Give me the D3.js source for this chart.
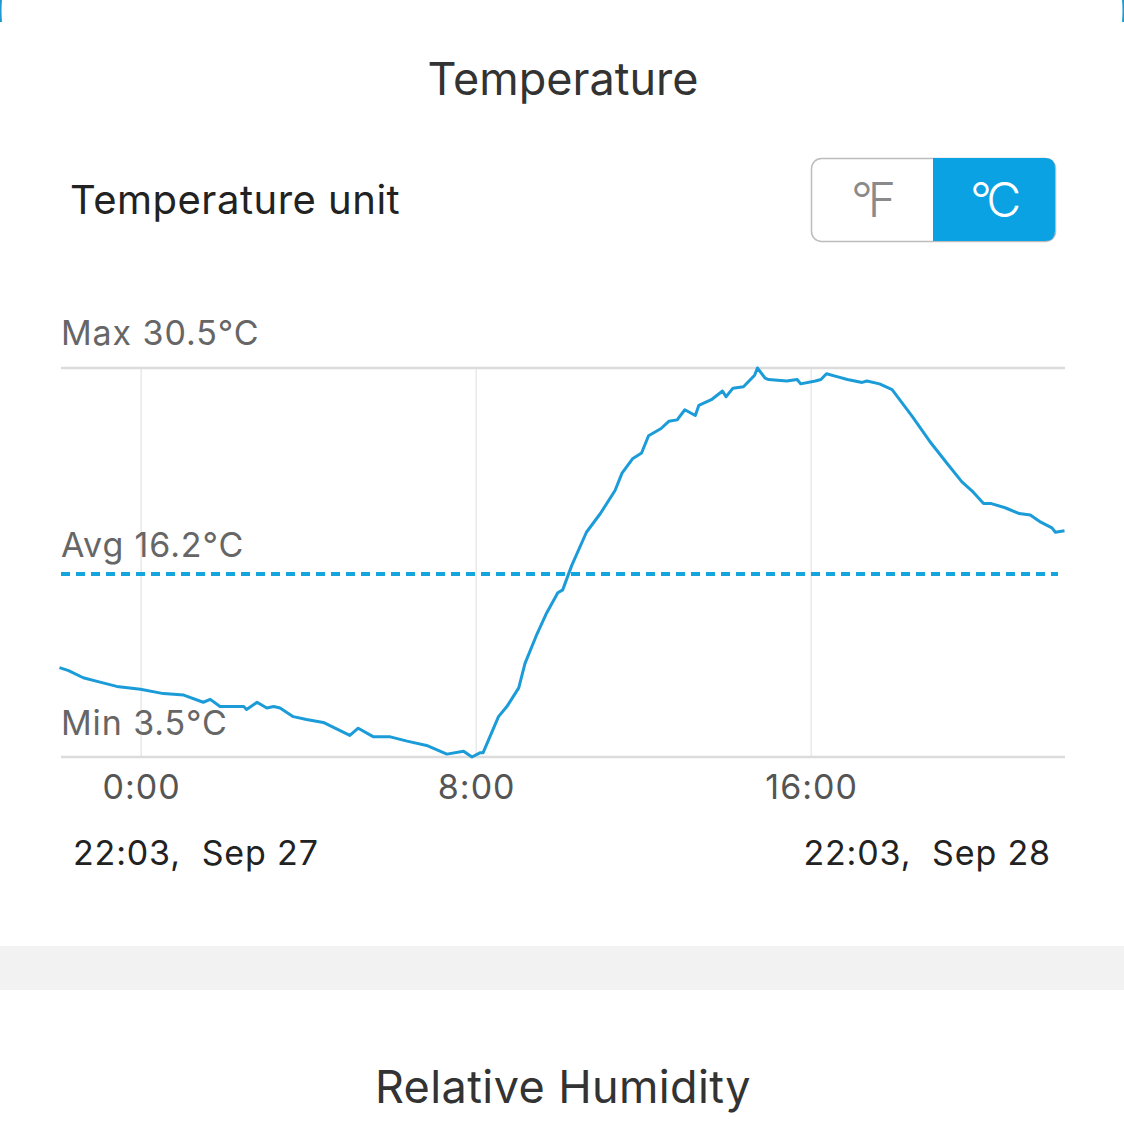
<!DOCTYPE html>
<html>
<head>
<meta charset="utf-8">
<script src="https://cdn.jsdelivr.net/npm/d3@7"></script>
<style>
  html, body { margin: 0; padding: 0; background: #fff; }
  svg { display: block; font-family: "Inter", "Liberation Sans", Arial, sans-serif; }
</style>
</head>
<body>
<svg id="chart" width="1124" height="1124"></svg>
<script>
// ---- data ----
const times = [
  "27 22:03","27 22:16","27 22:37","27 23:01","27 23:25","27 23:59",
  "28 00:32","28 01:01","28 01:29","28 01:39","28 01:53","28 02:27","28 02:31","28 02:46",
  "28 03:00","28 03:10","28 03:19","28 03:38","28 03:57","28 04:21","28 04:59","28 05:11",
  "28 05:33","28 05:57","28 06:21","28 06:49","28 07:18","28 07:42","28 07:54","28 08:06",
  "28 08:10","28 08:32","28 08:44","28 09:01","28 09:10","28 09:26","28 09:41","28 09:57",
  "28 10:04","28 10:17","28 10:38","28 10:58","28 11:19","28 11:29","28 11:44","28 11:57",
  "28 12:07","28 12:25","28 12:36","28 12:48","28 12:59","28 13:14","28 13:19","28 13:37",
  "28 13:53","28 13:58","28 14:08","28 14:23","28 14:39","28 14:43","28 14:54","28 14:59",
  "28 15:25","28 15:40","28 15:45","28 16:06","28 16:14","28 16:22","28 16:37","28 16:52",
  "28 17:13","28 17:20","28 17:38","28 17:56","28 18:24","28 18:50","28 19:16","28 19:36",
  "28 19:52","28 20:07","28 20:17","28 20:38","28 20:58","28 21:14","28 21:29","28 21:45",
  "28 21:50","28 22:03"
];
const temps = [
  9.7, 9.5, 9.0, 8.7, 8.4, 8.2,
  7.9, 7.8, 7.3, 7.5, 7.0, 7.0, 6.8, 7.3,
  6.9, 7.0, 6.9, 6.3, 6.1, 5.9, 5.0, 5.5,
  4.9, 4.9, 4.6, 4.3, 3.7, 3.9, 3.5, 3.8,
  3.8, 6.3, 7.0, 8.3, 10.0, 11.9, 13.5, 14.9,
  15.1, 16.8, 19.1, 20.4, 22.0, 23.2, 24.2, 24.6,
  25.8, 26.3, 26.8, 26.9, 27.6, 27.2, 27.9, 28.3,
  28.9, 28.5, 29.1, 29.2, 30.0, 30.5, 29.8, 29.7,
  29.6, 29.7, 29.4, 29.6, 29.7, 30.1, 29.9, 29.7,
  29.5, 29.6, 29.4, 29.0, 27.2, 25.4, 23.8, 22.6,
  21.9, 21.1, 21.1, 20.8, 20.4, 20.3, 19.8, 19.4,
  19.1, 19.2
];
const statLabels = ["Max", "Avg", "Min"];
const statValues = [30.5, 16.2, 3.5];
const tickTimes = ["28 00:00", "28 08:00", "28 16:00"];
const tickLabels = ["0:00", "8:00", "16:00"];
const rangeLabels = ["22:03,  Sep 27", "22:03,  Sep 28"];
const unitOptions = ["°F", "°C"];
const activeUnit = "°C";

(function () {
const parse = d3.timeParse("%d %H:%M");
const data = times.map((t, i) => ({ t: parse(t), v: temps[i] }));
const svg = d3.select("#chart");
const blue = "#1b9cd8";

const pLeft = 61, pRight = 1065, pTop = 368, pBottom = 757;
const x = d3.scaleTime().domain([parse(times[0]), parse(times[times.length - 1])]).range([59.5, 1064.5]);
const y = d3.scaleLinear().domain([statValues[2], statValues[0]]).range([pBottom, pTop]);

// card corners (blue hint at top)
svg.append("path").attr("d", "M1,0 Q0,10 1,22").attr("stroke", "#1e9ad0").attr("stroke-width", 2).attr("fill", "none");
svg.append("path").attr("d", "M1123,0 Q1124,10 1123,22").attr("stroke", "#1e9ad0").attr("stroke-width", 2).attr("fill", "none");

// title
svg.append("text").attr("x", 563).attr("y", 95).attr("text-anchor", "middle")
  .attr("font-size", 45).attr("fill", "#333").text("Temperature");

svg.append("text").attr("x", 70).attr("y", 214)
  .attr("font-size", 40).attr("letter-spacing", 0.5).attr("fill", "#222").text("Temperature unit");

// unit toggle
const tg = svg.append("g");
const tx0 = 811, tw = 244, ty0 = 158, th = 83, r = 10;
tg.append("rect").attr("x", tx0 + 0.5).attr("y", ty0 + 0.5).attr("width", tw).attr("height", th)
  .attr("rx", r).attr("fill", "#fff").attr("stroke", "#bdbdbd").attr("stroke-width", 1.5);
const half = tw / 2;
tg.append("path")
  .attr("d", `M${tx0 + half},${ty0} H${tx0 + tw - r} Q${tx0 + tw},${ty0} ${tx0 + tw},${ty0 + r} V${ty0 + th - r} Q${tx0 + tw},${ty0 + th} ${tx0 + tw - r},${ty0 + th} H${tx0 + half} Z`)
  .attr("fill", "#0aa2e3");
unitOptions.forEach((u, i) => {
  tg.append("text").attr("x", tx0 + half * i + half / 2 - 1).attr("y", ty0 + 59)
    .attr("text-anchor", "middle").attr("font-size", 48).attr("font-weight", 300)
    .attr("letter-spacing", -5)
    .attr("fill", u === activeUnit ? "#fff" : "#8a8a8a").text(u);
});

// grid lines
const grid = svg.append("g");
tickTimes.forEach(t => {
  grid.append("line").attr("x1", x(parse(t))).attr("x2", x(parse(t)))
    .attr("y1", pTop).attr("y2", pBottom).attr("stroke", "#e4e4e4").attr("stroke-width", 1.2);
});
[statValues[0], statValues[2]].forEach(v => {
  grid.append("line").attr("x1", pLeft).attr("x2", pRight)
    .attr("y1", y(v)).attr("y2", y(v)).attr("stroke", "#dcdcdc").attr("stroke-width", 2.5);
});

// avg dashed line
svg.append("line").attr("x1", pLeft).attr("x2", 1058)
  .attr("y1", y(statValues[1])).attr("y2", y(statValues[1]))
  .attr("stroke", "#14a5dc").attr("stroke-width", 4).attr("stroke-dasharray", "9,6");

// stat labels
const labelOffsets = [-23, -17, -22];
statLabels.forEach((l, i) => {
  svg.append("text").attr("x", 61).attr("y", y(statValues[i]) + labelOffsets[i])
    .attr("font-size", 34).attr("letter-spacing", 0.9).attr("fill", "#666")
    .text(`${l} ${statValues[i].toFixed(1)}°C`);
});

// temperature line
svg.append("path").datum(data)
  .attr("d", d3.line().x(d => x(d.t)).y(d => y(d.v)))
  .attr("fill", "none").attr("stroke", blue).attr("stroke-width", 3).attr("stroke-linejoin", "round");

// x axis tick labels
const ax = svg.append("g").attr("transform", `translate(0,${pBottom})`)
  .call(d3.axisBottom(x).tickValues(tickTimes.map(parse))
    .tickFormat((d, i) => tickLabels[i]).tickSize(0).tickPadding(15));
ax.select(".domain").remove();
ax.selectAll("text").attr("font-size", 34).attr("letter-spacing", 1).attr("fill", "#555")
  .attr("font-family", "Inter, Liberation Sans, Arial, sans-serif").attr("dy", "0.8em");

// range labels
svg.append("text").attr("x", 73).attr("y", 865).attr("font-size", 34).attr("letter-spacing", 0.85).attr("fill", "#222")
  .style("white-space", "pre").text(rangeLabels[0]);
svg.append("text").attr("x", 1051).attr("y", 865).attr("text-anchor", "end")
  .attr("font-size", 34).attr("letter-spacing", 0.85).attr("fill", "#222").style("white-space", "pre").text(rangeLabels[1]);

// separator band
svg.append("rect").attr("x", 0).attr("y", 946).attr("width", 1124).attr("height", 44).attr("fill", "#f2f2f2");

svg.append("text").attr("x", 563).attr("y", 1103).attr("text-anchor", "middle")
  .attr("font-size", 45).attr("letter-spacing", 0.4).attr("fill", "#333").text("Relative Humidity");
})();
</script>
</body>
</html>
